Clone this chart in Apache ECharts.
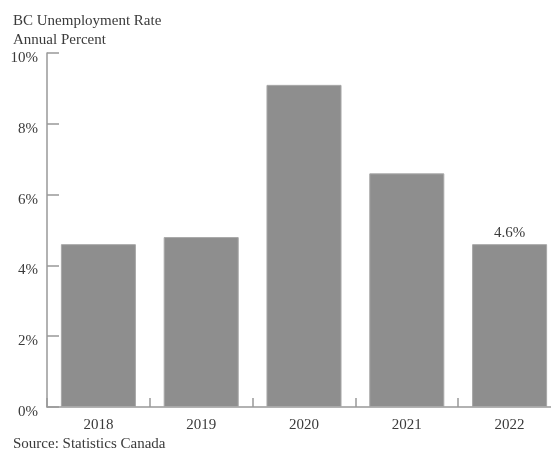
<!DOCTYPE html>
<html><head><meta charset="utf-8">
<script src="https://cdn.jsdelivr.net/npm/echarts@6/dist/echarts.min.js"></script>
<style>html,body{margin:0;padding:0;background:#fff;}#c{width:551px;height:451px;}</style>
</head><body><div id="c"></div>
<script>
const categories = ['2018','2019','2020','2021','2022'];
const rates = [4.6, 4.8, 9.1, 6.6, 4.6];
const yTicks = [0, 2, 4, 6, 8, 10];
const titleLines = ['BC Unemployment Rate', 'Annual Percent'];
const sourceText = 'Source: Statistics Canada';
const lastLabel = '4.6%';

const font = '"Liberation Serif", "DejaVu Serif", serif';
const chart = echarts.init(document.getElementById('c'), null, {renderer:'canvas'});
chart.setOption({
  animation:false,
  backgroundColor:'#fff',
  textStyle:{fontFamily:font},
  title:[
    {text:titleLines.join('\n'), left:8, top:7, textStyle:{fontFamily:font,fontSize:15,fontWeight:'normal',color:'#3a3a3a',lineHeight:19}},
    {text:sourceText, left:8, top:432, textStyle:{fontFamily:font,fontSize:15,fontWeight:'normal',color:'#3a3a3a'}}
  ],
  grid:{left:47, top:53, height:354, width:514, containLabel:false, outerBoundsMode:'none'},
  xAxis:{type:'category', data:categories,
    axisLine:{lineStyle:{color:'#999',width:1.5}},
    axisTick:{show:true,inside:true,length:9,lineStyle:{color:'#999',width:1.5}},
    axisLabel:{fontFamily:font,fontSize:15,color:'#3a3a3a',margin:11}},
  yAxis:{type:'value', min:yTicks[0], max:yTicks[yTicks.length-1], interval:2,
    axisLine:{show:true,lineStyle:{color:'#999',width:1.5}},
    axisTick:{show:true,inside:true,length:12,lineStyle:{color:'#999',width:1.5}},
    splitLine:{show:false},
    axisLabel:{fontFamily:font,fontSize:15,color:'#3a3a3a',margin:9,verticalAlign:'top',lineHeight:10,formatter:v=>v+'%'}},
  series:[{type:'bar', data:rates.map((v,i)=>({value:v,
      label:{show:i===rates.length-1,position:'top',formatter:lastLabel,fontFamily:font,fontSize:15,color:'#3a3a3a',distance:4}})),
    barCategoryGap:'27%',
    itemStyle:{color:'#8e8e8e',borderColor:'#a8a8a8',borderWidth:1}}]
});
</script></body></html>
